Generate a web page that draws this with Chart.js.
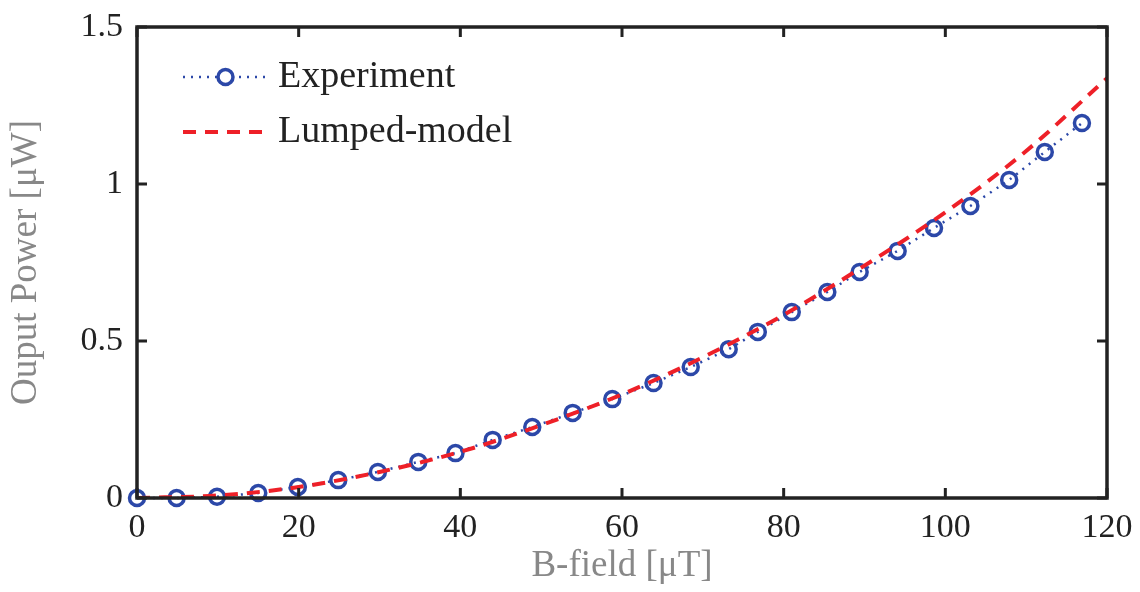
<!DOCTYPE html>
<html>
<head>
<meta charset="utf-8">
<script src="https://cdn.jsdelivr.net/npm/chart.js@4"></script>
<style>
  html, body { margin: 0; padding: 0; background: #fff; }
  #wrap { width: 1140px; height: 592px; }
</style>
</head>
<body>
<div id="wrap"><canvas id="grafico"></canvas></div>
<script>
// --- dados ---
const bField = [0, 4.9, 9.9, 15, 19.9, 24.9, 29.8, 34.8, 39.4, 44.0, 48.9, 53.9, 58.8,
                63.9, 68.5, 73.2, 76.8, 81.0, 85.4, 89.4, 94.1, 98.6, 103.1, 107.9, 112.3, 116.9];
const experimento = [0, 0, 0.004, 0.016, 0.035, 0.057, 0.083, 0.115, 0.143, 0.185, 0.226, 0.271, 0.315,
                     0.366, 0.417, 0.474, 0.529, 0.592, 0.656, 0.720, 0.787, 0.860, 0.930, 1.013, 1.102, 1.194];
const bModelo = [0, 10, 20, 30, 40, 50, 60, 70, 80, 90, 100, 110, 120];
const modelo = [0, 0.008, 0.035, 0.083, 0.147, 0.232, 0.330, 0.448, 0.583, 0.740, 0.910, 1.105, 1.337];
const xTicks = [0, 20, 40, 60, 80, 100, 120];
const yTicks = [0, 0.5, 1, 1.5];

const FONTE = '"Liberation Serif", "DejaVu Serif", serif';
const AZUL = 'rgb(44, 72, 168)';
const VERMELHO = 'rgb(238, 32, 40)';

// caixa estilo MATLAB com ticks para dentro em todos os lados + legenda
const caixaPlugin = {
    id: 'caixa',
    afterDraw(chart) {
        const { ctx, chartArea: a, scales } = chart;
        ctx.save();
        ctx.strokeStyle = '#222';
        ctx.lineWidth = 3;
        const tl = 10;
        xTicks.forEach(v => {
            const px = scales.x.getPixelForValue(v);
            ctx.beginPath();
            ctx.moveTo(px, a.bottom); ctx.lineTo(px, a.bottom - tl);
            ctx.moveTo(px, a.top); ctx.lineTo(px, a.top + tl);
            ctx.stroke();
        });
        yTicks.forEach(v => {
            const py = scales.y.getPixelForValue(v);
            ctx.beginPath();
            ctx.moveTo(a.left, py); ctx.lineTo(a.left + tl, py);
            ctx.moveTo(a.right, py); ctx.lineTo(a.right - tl, py);
            ctx.stroke();
        });
        ctx.lineWidth = 3.5;
        ctx.strokeRect(a.left, a.top, a.right - a.left, a.bottom - a.top);

        // legenda
        const x0 = a.left + 46, x1 = a.left + 131;
        const rows = [
            { y: 77, ds: chart.data.datasets[0] },
            { y: 132, ds: chart.data.datasets[1] }
        ];
        rows.forEach(r => {
            ctx.strokeStyle = r.ds.borderColor;
            ctx.lineWidth = r.ds.borderWidth;
            ctx.setLineDash(r.ds.borderDash);
            ctx.beginPath();
            ctx.moveTo(x0, r.y); ctx.lineTo(x1, r.y);
            ctx.stroke();
            ctx.setLineDash([]);
            if (r.ds.pointRadius > 0) {
                ctx.fillStyle = '#fff';
                ctx.lineWidth = r.ds.pointBorderWidth;
                ctx.strokeStyle = r.ds.pointBorderColor;
                ctx.beginPath();
                ctx.arc((x0 + x1) / 2, r.y, r.ds.pointRadius, 0, Math.PI * 2);
                ctx.fill();
                ctx.stroke();
            }
            ctx.fillStyle = '#222';
            ctx.font = '38px ' + FONTE;
            ctx.textBaseline = 'middle';
            ctx.textAlign = 'left';
            ctx.fillText(r.ds.label, x1 + 10, r.y);
        });
        ctx.restore();
    }
};

new Chart(document.getElementById('grafico').getContext('2d'), {
    type: 'line',
    data: {
        datasets: [{
            label: 'Experiment',
            data: bField.map((x, i) => ({ x: x, y: experimento[i] })),
            borderColor: AZUL,
            borderWidth: 2.5,
            borderDash: [2, 6],
            pointStyle: 'circle',
            pointRadius: 7.5,
            pointBorderWidth: 3.5,
            pointBorderColor: AZUL,
            pointBackgroundColor: 'rgba(255,255,255,0)',
            fill: false,
            clip: false,
            tension: 0,
            order: 2
        }, {
            label: 'Lumped-model',
            data: bModelo.map((x, i) => ({ x: x, y: modelo[i] })),
            borderColor: VERMELHO,
            borderWidth: 4,
            borderDash: [13, 9],
            pointRadius: 0,
            fill: false,
            cubicInterpolationMode: 'monotone',
            order: 1
        }]
    },
    options: {
        responsive: true,
        maintainAspectRatio: false,
        animation: false,
        layout: { padding: { left: 0, right: 33, top: 27, bottom: 0 } },
        plugins: { legend: { display: false }, tooltip: { enabled: false } },
        scales: {
            x: {
                type: 'linear', min: 0, max: 120,
                afterBuildTicks: s => { s.ticks = xTicks.map(v => ({ value: v })); },
                afterFit: s => { s.height = 94; },
                grid: { display: false },
                border: { display: false },
                ticks: { color: '#222', font: { family: FONTE, size: 34 }, padding: 2, maxRotation: 0 },
                title: { display: true, text: 'B-field [μT]', color: '#888',
                         font: { family: FONTE, size: 37 }, padding: { top: 6 } }
            },
            y: {
                type: 'linear', min: 0, max: 1.5,
                afterBuildTicks: s => { s.ticks = yTicks.map(v => ({ value: v })); },
                afterFit: s => { s.width = 137; },
                grid: { display: false },
                border: { display: false },
                ticks: { color: '#222', font: { family: FONTE, size: 34 }, padding: 6,
                         callback: v => String(v) },
                title: { display: true, text: 'Ouput Power [μW]', color: '#888',
                         font: { family: FONTE, size: 37 }, padding: { top: 4, bottom: 12 } }
            }
        }
    },
    plugins: [caixaPlugin]
});
</script>
</body>
</html>
